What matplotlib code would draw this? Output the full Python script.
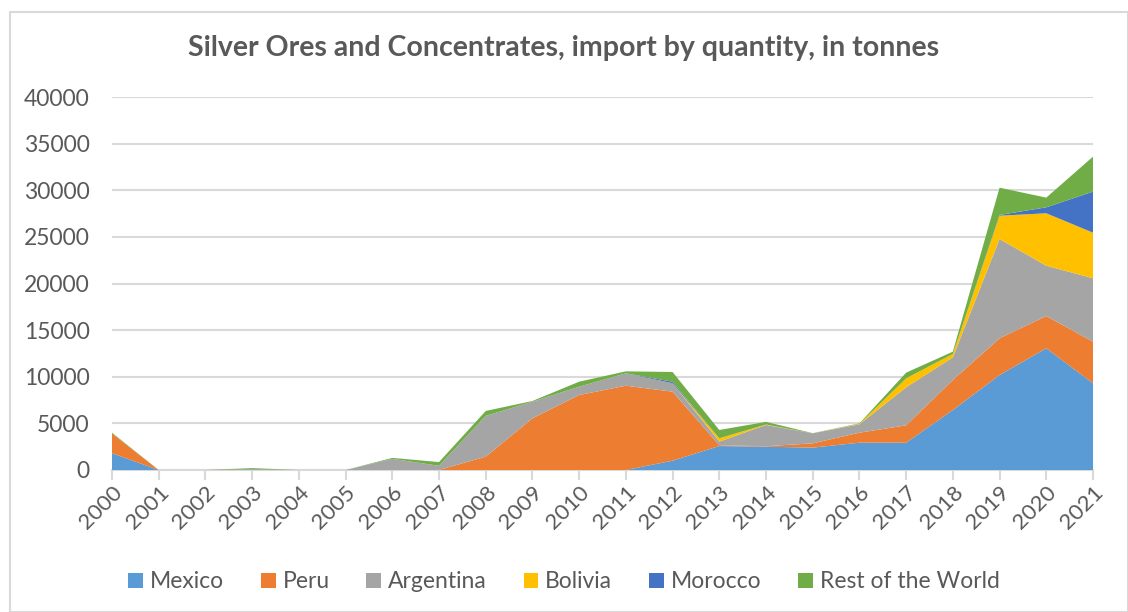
import numpy as np
import matplotlib.pyplot as plt
from matplotlib.patches import Patch, Rectangle

plt.rcParams['font.family'] = ['Lato', 'DejaVu Sans']

years = list(range(2000, 2022))

# tonnes
mexico = [1800, 0, 0, 0, 0, 0, 0, 0, 0, 0, 0,
          0, 1000, 2570, 2500, 2400, 2930, 2930, 6430, 10190, 13050, 9300]
peru = [2100, 0, 0, 0, 0, 0, 0, 0, 1430, 5540, 8040,
        9040, 7400, 80, 50, 460, 1070, 1860, 3220, 3930, 3460, 4460]
argentina = [0, 0, 0, 100, 0, 0, 1200, 450, 4370, 1790, 890,
             1330, 900, 390, 2280, 1070, 900, 4080, 2430, 10650, 5400, 6800]
bolivia = [0, 0, 0, 0, 0, 0, 0, 0, 0, 0, 0,
           0, 0, 360, 50, 0, 50, 960, 360, 2500, 5620, 4890]
morocco = [0, 0, 0, 0, 0, 0, 0, 0, 0, 0, 0,
           0, 170, 0, 0, 0, 0, 0, 0, 80, 640, 4400]
rest = [100, 0, 0, 100, 0, 0, 100, 400, 530, 70, 540,
        210, 1040, 890, 280, 20, 50, 610, 250, 2920, 1040, 3750]

names = ['Mexico', 'Peru', 'Argentina', 'Bolivia', 'Morocco', 'Rest of the World']
colors = ['#5B9BD5', '#ED7D31', '#A5A5A5', '#FFC000', '#4472C4', '#70AD47']

fig = plt.figure(figsize=(11.28, 6.12), dpi=100)
ax = fig.add_axes([112/1128, 1-470/612, (1093-112)/1128, (470-97)/612])

# chart frame
fig.patches.append(Rectangle((10/1128, 0), 1-10/1128, 1-12/612, transform=fig.transFigure,
                             fill=False, edgecolor='#d9d9d9', linewidth=1.5))

ax.stackplot(years, mexico, peru, argentina, bolivia, morocco, rest,
             colors=colors, linewidth=0)

ax.set_xlim(2000, 2021)
ax.set_ylim(0, 40000)
ax.set_yticks(range(0, 40001, 5000))
ax.set_xticks(years)
ax.set_xticklabels([str(y) for y in years], rotation=45, ha='right', rotation_mode='anchor')
ax.tick_params(axis='y', length=0, labelsize=16.5, colors='#595959', pad=16)
ax.tick_params(axis='x', length=7, width=1.5, color='#d9d9d9', labelsize=16,
               labelcolor='#595959', pad=2)
ax.grid(axis='y', color='#d9d9d9', linewidth=1.5)
ax.set_axisbelow(True)
for s in ['top', 'right', 'left']:
    ax.spines[s].set_visible(False)
ax.spines['bottom'].set_color('#d9d9d9')
ax.spines['bottom'].set_linewidth(1.5)
ax.spines['bottom'].set_zorder(0.5)

fig.text(0.5, 1-48/612, 'Silver Ores and Concentrates, import by quantity, in tonnes',
         ha='center', va='center', fontsize=20.5, fontweight='bold', color='#595959')

handles = [Patch(facecolor=c, label=n) for n, c in zip(names, colors)]
fig.legend(handles=handles, loc='center', bbox_to_anchor=(0.5, 1-582/612), ncol=6,
           frameon=False, fontsize=16.5, handlelength=0.65, handleheight=0.65,
           handletextpad=0.3, columnspacing=1.6, labelcolor='#595959')

fig.savefig('out.png', dpi=100)
